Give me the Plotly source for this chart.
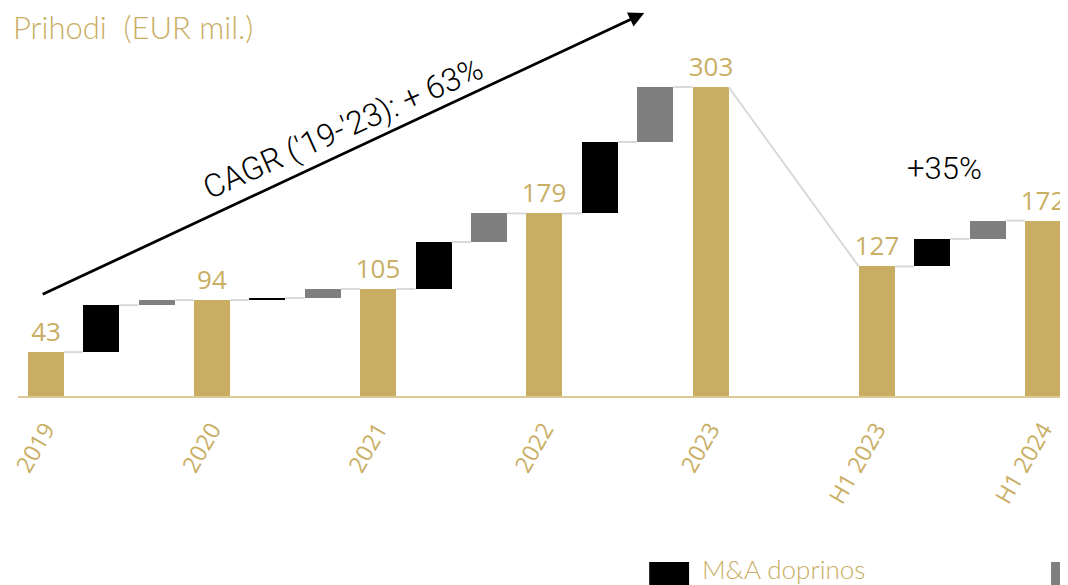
import plotly.graph_objects as go

# ---- data ----
categories = ["2019", "2020", "2021", "2022", "2023", "H1 2023", "H1 2024"]
totals = [43, 94, 105, 179, 303, 127, 172]
ma_contrib = [46, 2, 46, 70, None, 27]        # M&A doprinos between consecutive totals
organic_contrib = [5, 9, 28, 54, None, 18]    # other growth (grey)
cagr_text = "CAGR ('19-'23): + 63%"
h1_growth_text = "+35%"
title_text = "Prihodi  (EUR mil.)"
legend_ma = "M&A doprinos"

GOLD = "#c8ad62"
GOLD_TXT = "#c9ae64"
AXIS_GOLD = "#dcc896"
GREY = "#7f7f7f"
CONN = "#d9d9d9"

OFF = 8                      # page offset of the figure inside the browser window
W, H = 1068 - OFF, 585 - OFF
L, R, T = 7, 0, 0
B = H - (396 - OFF)
PW, PH = W - L - R, H - T - B
SLOT = 55.56
PX_PER_UNIT = 1.02
BW = 0.65

def px(xp):
    return (xp - OFF - L) / PW

def py(yp):
    return (H - B - (yp - OFF)) / PH

# positions
tot_x = [3 * i for i in range(len(totals))]
ma_x, ma_y, ma_b = [], [], []
org_x, org_y, org_b = [], [], []
for i, (m, o) in enumerate(zip(ma_contrib, organic_contrib)):
    if m is None:
        continue
    ma_x.append(3 * i + 1); ma_y.append(m); ma_b.append(totals[i])
    org_x.append(3 * i + 2); org_y.append(o); org_b.append(totals[i] + m)

# connector lines
seq = []
for i in range(len(totals)):
    seq.append((tot_x[i], totals[i]))
    if i < len(ma_contrib) and ma_contrib[i] is not None:
        seq.append((3 * i + 1, totals[i] + ma_contrib[i]))
        seq.append((3 * i + 2, totals[i] + ma_contrib[i] + organic_contrib[i]))
cx, cy = [], []
for (x0, y0), (x1, y1) in zip(seq[:-1], seq[1:]):
    if x1 - x0 == 1:
        cx += [x0 + BW / 2, x1 - BW / 2, None]
        cy += [y0, y0, None]
    else:
        cx += [x0 + BW / 2, x1 - BW / 2, None]
        cy += [y0, y1, None]

fig = go.Figure()
fig.add_trace(go.Scatter(x=cx, y=cy, mode="lines", line=dict(color=CONN, width=2),
                         hoverinfo="skip", showlegend=False))
fig.add_trace(go.Bar(x=tot_x, y=totals, base=0, width=BW, marker=dict(color=GOLD, line=dict(width=0)),
                     name="Prihodi", text=[str(v) for v in totals], textposition="outside",
                     constraintext="none",
                     textfont=dict(family="Open Sans", size=26, color=GOLD_TXT),
                     cliponaxis=False, showlegend=False))
fig.add_trace(go.Bar(x=ma_x, y=ma_y, base=ma_b, width=BW, marker=dict(color="#000000", line=dict(width=0)),
                     name=legend_ma, showlegend=False))
fig.add_trace(go.Bar(x=org_x, y=org_y, base=org_b, width=BW, marker=dict(color=GREY, line=dict(width=0)),
                     name="Organski rast", showlegend=False))

annotations = [
    dict(text=title_text, x=px(8), y=py(27), xref="paper", yref="paper", xanchor="left", yanchor="middle",
         showarrow=False, font=dict(family="Lato", size=31, color=GOLD_TXT, weight=300)),
    dict(text=cagr_text, x=px(341), y=py(128), xref="paper", yref="paper", xanchor="center", yanchor="middle",
         textangle=-24, showarrow=False, font=dict(family="Roboto", size=32, color="#000000", weight=300)),
    dict(text=h1_growth_text, x=px(944), y=py(168), xref="paper", yref="paper", xanchor="center", yanchor="middle",
         showarrow=False, font=dict(family="Roboto", size=31, color="#000000", weight=300)),
    dict(text="", x=px(643), y=py(13), xref="paper", yref="paper", ax=40 - 643, ay=295 - 13,
         axref="pixel", ayref="pixel", showarrow=True, arrowhead=2, arrowsize=1.1, arrowwidth=2.8,
         arrowcolor="#000000", standoff=0),
    dict(text=legend_ma, x=px(699), y=py(569), xref="paper", yref="paper", xanchor="left", yanchor="middle",
         showarrow=False, font=dict(family="Lato", size=26, color=GOLD_TXT, weight=300)),
]
shapes = [
    dict(type="rect", xref="paper", yref="paper", x0=px(648), x1=px(688), y0=py(562), y1=py(590),
         fillcolor="#000000", line=dict(width=0)),
    dict(type="rect", xref="paper", yref="paper", x0=px(1051), x1=px(1091), y0=py(562), y1=py(590),
         fillcolor=GREY, line=dict(width=0)),
]

fig.update_layout(
    width=W, height=H, margin=dict(l=L, r=R, t=T, b=B, pad=0),
    paper_bgcolor="white", plot_bgcolor="white", barmode="overlay", bargap=0,
    showlegend=False, annotations=annotations, shapes=shapes,
    xaxis=dict(range=[-0.5, -0.5 + PW / SLOT], tickmode="array", tickvals=tot_x, ticktext=categories,
               tickangle=-60, tickfont=dict(family="Open Sans", size=23, color=GOLD_TXT),
               ticklabeloverflow="allow",
               showgrid=False, zeroline=False, showline=True, linecolor=AXIS_GOLD, linewidth=2,
               ticks="", ticklabelstandoff=9, fixedrange=True),
    yaxis=dict(range=[0, PH / PX_PER_UNIT], visible=False, showgrid=False, zeroline=False, fixedrange=True),
)

fig.write_html("out.html")
